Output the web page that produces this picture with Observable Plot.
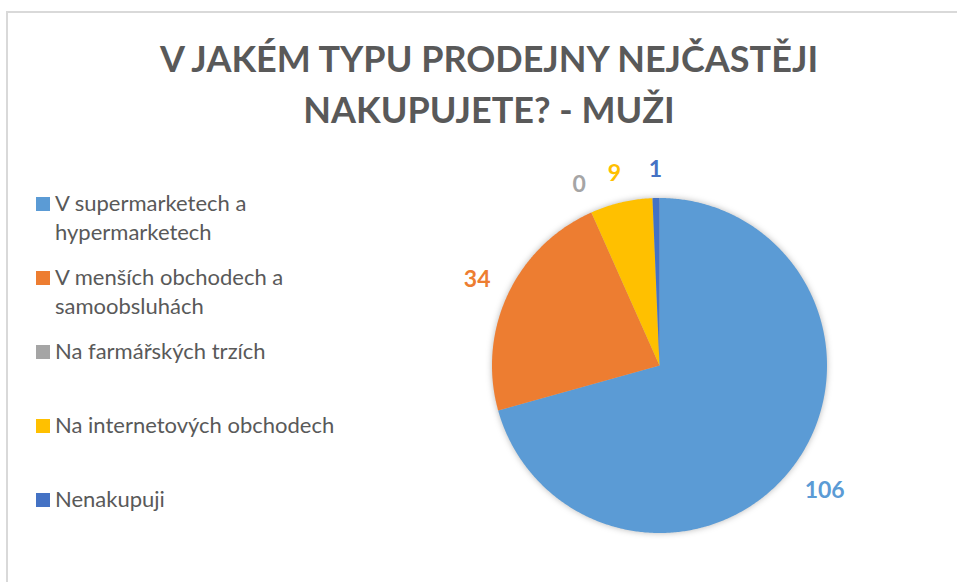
<!DOCTYPE html>
<html>
<head>
<meta charset="utf-8">
<script src="https://cdn.jsdelivr.net/npm/d3@7"></script>
<script src="https://cdn.jsdelivr.net/npm/@observablehq/plot@0.6"></script>
<style>
  html, body { margin: 0; padding: 0; background: #fff; }
  #wrap { position: relative; width: 957px; height: 582px; overflow: hidden; background: #fff; }
  #frame { position: absolute; left: 6px; top: 11px; width: 1000px; height: 700px; border-left: 2px solid #d9d9d9; border-top: 2px solid #d9d9d9; box-sizing: border-box; }
  #title { position: absolute; left: 489px; top: 33px; transform: translateX(-50%); width: 900px; text-align: center;
           font-family: Lato, sans-serif; font-weight: 700; font-size: 36px; line-height: 51px; color: #595959; white-space: pre; }
  #legend { position: absolute; left: 0; top: 188px; font-family: Lato, sans-serif; font-size: 22px; color: #595959; }
  .item { position: absolute; left: 0; width: 380px; line-height: 29px; }
  .sw { position: absolute; left: 36px; top: 9px; width: 14px; height: 14px; }
  .lab { position: absolute; left: 55px; width: 310px; }
  #chart { position: absolute; left: 0; top: 0; }
  #chart g[aria-label="line"] { filter: drop-shadow(0px 0px 3px rgba(0,0,0,0.28)); }
</style>
</head>
<body>
<div id="wrap">
  <div id="frame"></div>
  <div id="title"></div>
  <div id="legend"></div>
  <div id="chart"></div>
</div>
<script>
const titleLines = ["V JAKÉM TYPU PRODEJNY NEJČASTĚJI", "NAKUPUJETE? - MUŽI"];
const categories = ["V supermarketech a hypermarketech", "V menších obchodech a samoobsluhách", "Na farmářských trzích", "Na internetových obchodech", "Nenakupuji"];
const values = [106, 34, 0, 9, 1];
const colors = ["#5B9BD5", "#ED7D31", "#A5A5A5", "#FFC000", "#4472C4"];

document.getElementById("title").textContent = titleLines.join("\n");

// legend
const legend = document.getElementById("legend");
categories.forEach((c, i) => {
  const it = document.createElement("div");
  it.className = "item";
  it.style.top = (i * 74) + "px";
  it.innerHTML = `<div class="sw" style="background:${colors[i]}"></div><div class="lab">${c}</div>`;
  legend.appendChild(it);
});

// pie geometry from data
const pie = d3.pie().sort(null).value(d => d)(values);
const polyPts = [];
pie.forEach((p, i) => {
  if (p.endAngle - p.startAngle <= 0) return;
  polyPts.push({cat: categories[i], x: 0, y: 0});
  const steps = Math.max(2, Math.ceil((p.endAngle - p.startAngle) / (Math.PI / 360)));
  for (let k = 0; k <= steps; k++) {
    const a = p.startAngle + (p.endAngle - p.startAngle) * k / steps;
    polyPts.push({cat: categories[i], x: Math.sin(a), y: Math.cos(a)});
  }
  polyPts.push({cat: categories[i], x: 0, y: 0});
});

const R = 167.5, cx = 659, cy = 365;
const fontPx = 23;
const labels = pie.map((p, i) => {
  const a = (p.startAngle + p.endAngle) / 2;
  const s = Math.sin(a), c = Math.cos(a);
  const txt = String(values[i]);
  const hw = txt.length * fontPx * 0.29, hh = fontPx * 0.5;
  const dist = (R + 17 + hw * Math.abs(s) + hh * Math.abs(c)) / R;
  return {cat: categories[i], label: txt, x: s * dist, y: c * dist, color: colors[i]};
});

const chart = Plot.plot({
  width: 957,
  height: 582,
  margin: 0,
  x: {domain: [-1, 1], range: [cx - R, cx + R], axis: null},
  y: {domain: [-1, 1], range: [cy + R, cy - R], axis: null},
  color: {domain: categories, range: colors},
  style: {background: "transparent", overflow: "visible"},
  marks: [
    Plot.line(polyPts, {x: "x", y: "y", z: "cat", fill: "cat", stroke: "none", curve: "linear"}),
    Plot.text(labels, {x: "x", y: "y", text: "label", fill: "color", fontSize: fontPx, fontWeight: 700,
      fontFamily: "Lato, sans-serif", textAnchor: "middle", lineAnchor: "middle"})
  ]
});
document.getElementById("chart").appendChild(chart);
</script>
</body>
</html>
